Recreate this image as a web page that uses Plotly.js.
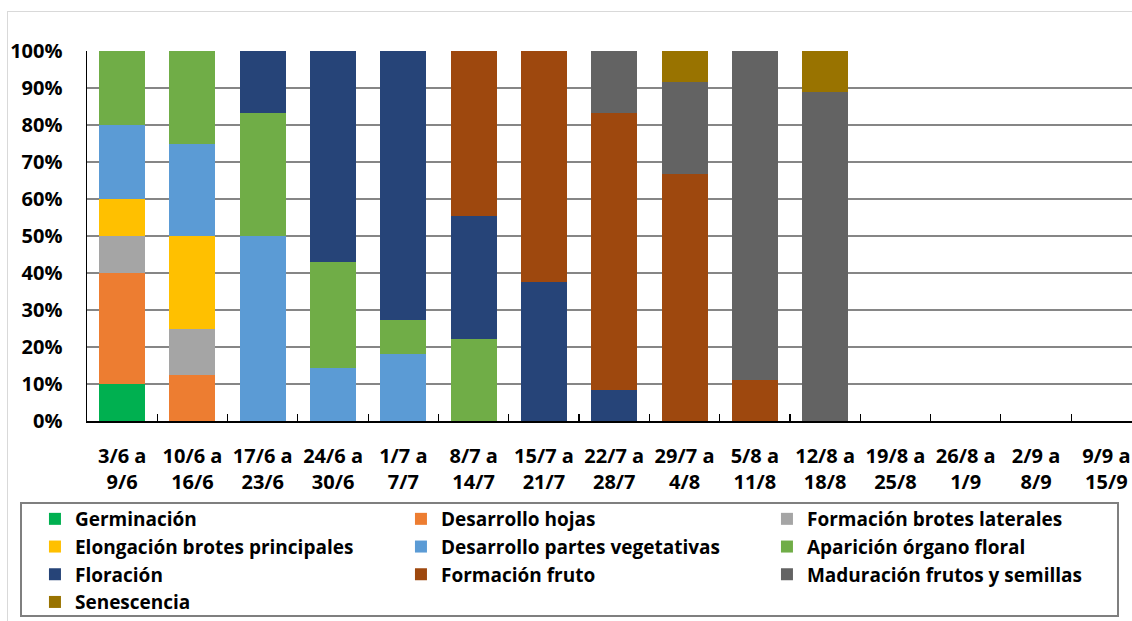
<!DOCTYPE html>
<html>
<head>
<meta charset="utf-8">
<script src="https://cdn.plot.ly/plotly-3.0.1.min.js"></script>
<style>
  html, body { margin: 0; padding: 0; background: #ffffff; overflow: hidden; }
  #frame { position: absolute; left: 7px; top: 11px; width: 1200px; height: 700px; border: 1px solid #d9d9d9; }
  #legendbox { position: absolute; left: 20px; top: 502px; width: 1095px; height: 111px; border: 2px solid #7f7f7f; background: #ffffff; }
  #chart { position: absolute; left: 0; top: 0; width: 1132px; height: 621px; }
</style>
</head>
<body>
<div id="frame"></div>
<div id="legendbox"></div>
<div id="chart"></div>
<script>
const categories = [
  "3/6 a<br>9/6", "10/6 a<br>16/6", "17/6 a<br>23/6", "24/6 a<br>30/6", "1/7 a<br>7/7",
  "8/7 a<br>14/7", "15/7 a<br>21/7", "22/7 a<br>28/7", "29/7 a<br>4/8", "5/8 a<br>11/8",
  "12/8 a<br>18/8", "19/8 a<br>25/8", "26/8 a<br>1/9", "2/9 a<br>8/9", "9/9 a<br>15/9"
];

const seriesNames = [
  "Germinación", "Desarrollo hojas", "Formación brotes laterales",
  "Elongación brotes principales", "Desarrollo partes vegetativas", "Aparición órgano floral",
  "Floración", "Formación fruto", "Maduración frutos y semillas", "Senescencia"
];

const germinacion        = [10, 0, 0, 0, 0, 0, 0, 0, 0, 0, 0, 0, 0, 0, 0];
const desarrolloHojas    = [30, 12.5, 0, 0, 0, 0, 0, 0, 0, 0, 0, 0, 0, 0, 0];
const brotesLaterales    = [10, 12.5, 0, 0, 0, 0, 0, 0, 0, 0, 0, 0, 0, 0, 0];
const elongacion         = [10, 25, 0, 0, 0, 0, 0, 0, 0, 0, 0, 0, 0, 0, 0];
const partesVegetativas  = [20, 25, 50, 14.3, 18.2, 0, 0, 0, 0, 0, 0, 0, 0, 0, 0];
const aparicionFloral    = [20, 25, 33.3, 28.6, 9.1, 22.2, 0, 0, 0, 0, 0, 0, 0, 0, 0];
const floracion          = [0, 0, 16.7, 57.1, 72.7, 33.3, 37.5, 8.3, 0, 0, 0, 0, 0, 0, 0];
const formacionFruto     = [0, 0, 0, 0, 0, 44.5, 62.5, 75, 66.7, 11.1, 0, 0, 0, 0, 0];
const maduracion         = [0, 0, 0, 0, 0, 0, 0, 16.7, 25, 88.9, 88.9, 0, 0, 0, 0];
const senescencia        = [0, 0, 0, 0, 0, 0, 0, 0, 8.3, 0, 11.1, 0, 0, 0, 0];

const yTickValues = [0, 10, 20, 30, 40, 50, 60, 70, 80, 90, 100];
const yTickLabels = ["0%", "10%", "20%", "30%", "40%", "50%", "60%", "70%", "80%", "90%", "100%"];

const seriesValues = [germinacion, desarrolloHojas, brotesLaterales, elongacion, partesVegetativas,
  aparicionFloral, floracion, formacionFruto, maduracion, senescencia];
const colors = ["#00B050", "#ED7D31", "#A5A5A5", "#FFC000", "#5B9BD5",
  "#70AD47", "#264478", "#9E480E", "#636363", "#997300"];

const FONT = "'Open Sans', Lato, sans-serif";

const traces = seriesNames.map((name, i) => ({
  type: "bar",
  name: name,
  x: categories,
  y: seriesValues[i],
  marker: { color: colors[i], line: { width: 0 } },
  hoverinfo: "skip"
}));

const layout = {
  width: 1132,
  height: 621,
  margin: { l: 87, r: 0, t: 51, b: 200, autoexpand: false },
  paper_bgcolor: "rgba(0,0,0,0)",
  plot_bgcolor: "rgba(0,0,0,0)",
  barmode: "stack",
  bargap: 0.345,
  font: { family: FONT, size: 20, color: "#000000" },
  showlegend: true,
  xaxis: {
    type: "category",
    range: [-0.5, 14.365],
    showgrid: false,
    showline: true,
    linecolor: "#000000",
    linewidth: 1.5,
    ticks: "inside",
    tickson: "boundaries",
    ticklen: 7,
    tickwidth: 1.2,
    tickcolor: "#000000",
    tickangle: 0,
    ticklabelstandoff: 16,
    tickfont: { family: FONT, size: 20, color: "#000000", weight: "bold" },
    fixedrange: true
  },
  yaxis: {
    range: [0, 100],
    tickvals: yTickValues,
    ticktext: yTickLabels,
    showgrid: true,
    gridcolor: "#868686",
    gridwidth: 1.5,
    zeroline: false,
    showline: true,
    linecolor: "#000000",
    linewidth: 1.5,
    ticks: "",
    ticklabelstandoff: 19,
    tickfont: { family: FONT, size: 20, color: "#000000", weight: "bold" },
    fixedrange: true
  },
  legend: {
    orientation: "h",
    traceorder: "normal",
    x: -0.0498,
    xanchor: "left",
    y: -0.2135,
    yanchor: "top",
    entrywidth: 321,
    entrywidthmode: "pixels",
    bgcolor: "rgba(0,0,0,0)",
    borderwidth: 0,
    font: { family: FONT, size: 19, color: "#000000", weight: "bold" },
    itemclick: false,
    itemdoubleclick: false
  }
};

Plotly.newPlot("chart", traces, layout, { staticPlot: true, displayModeBar: false });
</script>
</body>
</html>
